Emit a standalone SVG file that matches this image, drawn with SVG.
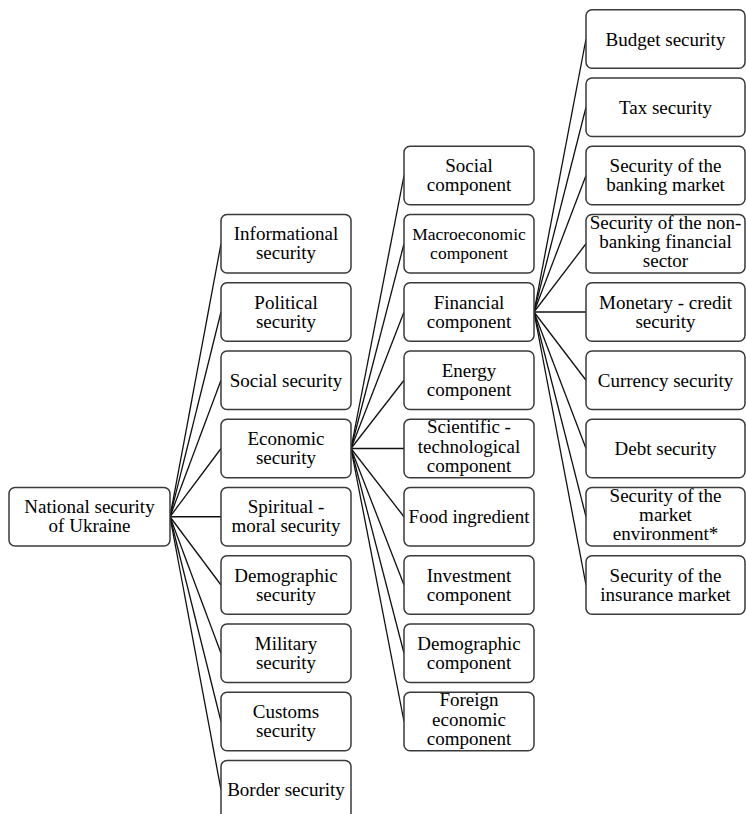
<svg xmlns="http://www.w3.org/2000/svg" width="746" height="814" viewBox="0 0 746 814">
<style>
.box{fill:#fff;stroke:#3a3a3a;stroke-width:1.5}
text{font-family:'Liberation Serif','DejaVu Serif',serif;font-size:19px;fill:#000;text-anchor:middle}
.s{font-size:17.5px}
.c line{stroke:#111;stroke-width:1.3}
</style>
<rect width="746" height="814" fill="#fff"/>
<g class="c" id="connectors">
<line x1="170" y1="516.75" x2="221" y2="243.75"/>
<line x1="170" y1="516.75" x2="221" y2="312"/>
<line x1="170" y1="516.75" x2="221" y2="380.25"/>
<line x1="170" y1="516.75" x2="221" y2="448.5"/>
<line x1="170" y1="516.75" x2="221" y2="516.75"/>
<line x1="170" y1="516.75" x2="221" y2="585"/>
<line x1="170" y1="516.75" x2="221" y2="653.25"/>
<line x1="170" y1="516.75" x2="221" y2="721.5"/>
<line x1="170" y1="516.75" x2="221" y2="789.75"/>
<line x1="351" y1="448.5" x2="404" y2="175.5"/>
<line x1="351" y1="448.5" x2="404" y2="243.75"/>
<line x1="351" y1="448.5" x2="404" y2="312"/>
<line x1="351" y1="448.5" x2="404" y2="380.25"/>
<line x1="351" y1="448.5" x2="404" y2="448.5"/>
<line x1="351" y1="448.5" x2="404" y2="516.75"/>
<line x1="351" y1="448.5" x2="404" y2="585"/>
<line x1="351" y1="448.5" x2="404" y2="653.25"/>
<line x1="351" y1="448.5" x2="404" y2="721.5"/>
<line x1="534" y1="312" x2="586" y2="39"/>
<line x1="534" y1="312" x2="586" y2="107.25"/>
<line x1="534" y1="312" x2="586" y2="175.5"/>
<line x1="534" y1="312" x2="586" y2="243.75"/>
<line x1="534" y1="312" x2="586" y2="312"/>
<line x1="534" y1="312" x2="586" y2="380.25"/>
<line x1="534" y1="312" x2="586" y2="448.5"/>
<line x1="534" y1="312" x2="586" y2="516.75"/>
<line x1="534" y1="312" x2="586" y2="585"/>
</g>
<g id="national"><rect class="box" x="9" y="487.5" width="161" height="58.5" rx="6"/><text x="89.5" y="513">National security</text><text x="89.5" y="532">of Ukraine</text></g>
<g id="informational"><rect class="box" x="221" y="214.5" width="130" height="58.5" rx="6"/><text x="286" y="240.25">Informational</text><text x="286" y="259.25">security</text></g>
<g id="political"><rect class="box" x="221" y="282.75" width="130" height="58.5" rx="6"/><text x="286" y="308.5">Political</text><text x="286" y="327.5">security</text></g>
<g id="social-security"><rect class="box" x="221" y="351" width="130" height="58.5" rx="6"/><text x="286" y="386.75">Social security</text></g>
<g id="economic"><rect class="box" x="221" y="419.25" width="130" height="58.5" rx="6"/><text x="286" y="445">Economic</text><text x="286" y="464">security</text></g>
<g id="spiritual"><rect class="box" x="221" y="487.5" width="130" height="58.5" rx="6"/><text x="286" y="513.25">Spiritual -</text><text x="286" y="532.25">moral security</text></g>
<g id="demographic-security"><rect class="box" x="221" y="555.75" width="130" height="58.5" rx="6"/><text x="286" y="581.5">Demographic</text><text x="286" y="600.5">security</text></g>
<g id="military"><rect class="box" x="221" y="624" width="130" height="58.5" rx="6"/><text x="286" y="649.75">Military</text><text x="286" y="668.75">security</text></g>
<g id="customs"><rect class="box" x="221" y="692.25" width="130" height="58.5" rx="6"/><text x="286" y="718">Customs</text><text x="286" y="737">security</text></g>
<g id="border"><rect class="box" x="221" y="760.5" width="130" height="58.5" rx="6"/><text x="286" y="796.25">Border security</text></g>
<g id="social-component"><rect class="box" x="404" y="146.25" width="130" height="58.5" rx="6"/><text x="469" y="172">Social</text><text x="469" y="191">component</text></g>
<g id="macroeconomic"><rect class="box" x="404" y="214.5" width="130" height="58.5" rx="6"/><text class="s" x="469" y="240">Macroeconomic</text><text class="s" x="469" y="259">component</text></g>
<g id="financial"><rect class="box" x="404" y="282.75" width="130" height="58.5" rx="6"/><text x="469" y="308.5">Financial</text><text x="469" y="327.5">component</text></g>
<g id="energy"><rect class="box" x="404" y="351" width="130" height="58.5" rx="6"/><text x="469" y="376.75">Energy</text><text x="469" y="395.75">component</text></g>
<g id="scientific"><rect class="box" x="404" y="419.25" width="130" height="58.5" rx="6"/><text x="469" y="433.25">Scientific -</text><text x="469" y="452.5">technological</text><text x="469" y="471.75">component</text></g>
<g id="food"><rect class="box" x="404" y="487.5" width="130" height="58.5" rx="6"/><text x="469" y="523.25">Food ingredient</text></g>
<g id="investment"><rect class="box" x="404" y="555.75" width="130" height="58.5" rx="6"/><text x="469" y="581.5">Investment</text><text x="469" y="600.5">component</text></g>
<g id="demographic-component"><rect class="box" x="404" y="624" width="130" height="58.5" rx="6"/><text x="469" y="649.75">Demographic</text><text x="469" y="668.75">component</text></g>
<g id="foreign"><rect class="box" x="404" y="692.25" width="130" height="58.5" rx="6"/><text x="469" y="706.25">Foreign</text><text x="469" y="725.5">economic</text><text x="469" y="744.75">component</text></g>
<g id="budget"><rect class="box" x="586" y="9.75" width="159" height="58.5" rx="6"/><text x="665.5" y="45.5">Budget security</text></g>
<g id="tax"><rect class="box" x="586" y="78" width="159" height="58.5" rx="6"/><text x="665.5" y="113.75">Tax security</text></g>
<g id="banking"><rect class="box" x="586" y="146.25" width="159" height="58.5" rx="6"/><text x="665.5" y="172">Security of the</text><text x="665.5" y="191">banking market</text></g>
<g id="non-banking"><rect class="box" x="586" y="214.5" width="159" height="58.5" rx="6"/><text x="665.5" y="228.5">Security of the non-</text><text x="665.5" y="247.75">banking financial</text><text x="665.5" y="267">sector</text></g>
<g id="monetary"><rect class="box" x="586" y="282.75" width="159" height="58.5" rx="6"/><text x="665.5" y="308.5">Monetary - credit</text><text x="665.5" y="327.5">security</text></g>
<g id="currency"><rect class="box" x="586" y="351" width="159" height="58.5" rx="6"/><text x="665.5" y="386.75">Currency security</text></g>
<g id="debt"><rect class="box" x="586" y="419.25" width="159" height="58.5" rx="6"/><text x="665.5" y="455">Debt security</text></g>
<g id="market-environment"><rect class="box" x="586" y="487.5" width="159" height="58.5" rx="6"/><text x="665.5" y="501.5">Security of the</text><text x="665.5" y="520.75">market</text><text x="665.5" y="540">environment*</text></g>
<g id="insurance"><rect class="box" x="586" y="555.75" width="159" height="58.5" rx="6"/><text x="665.5" y="581.5">Security of the</text><text x="665.5" y="600.5">insurance market</text></g>
</svg>
